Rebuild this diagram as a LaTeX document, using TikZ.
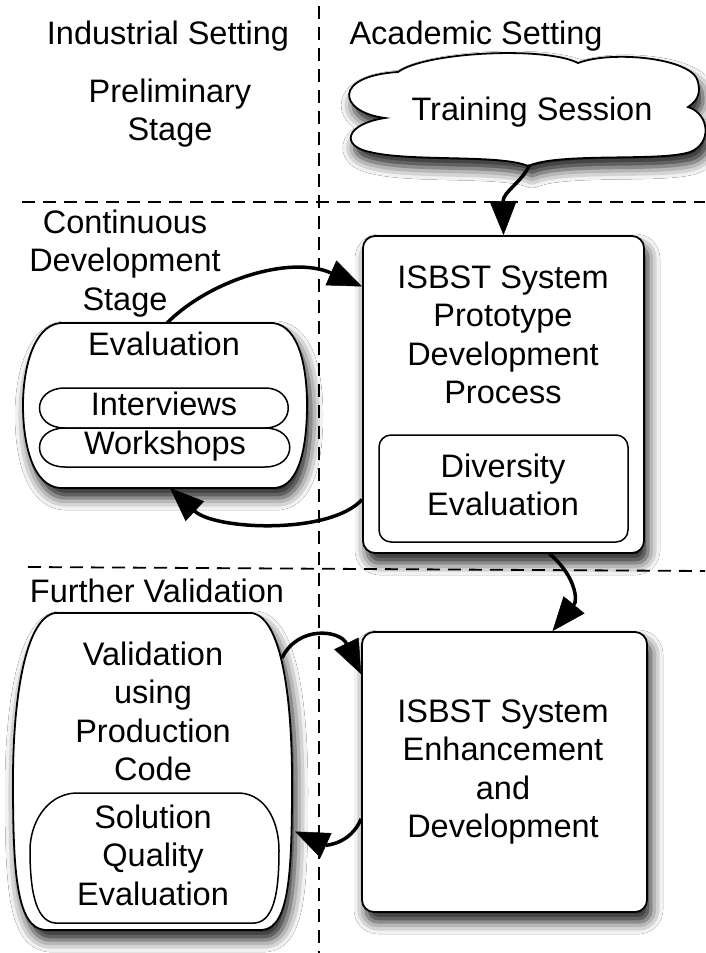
\documentclass[tikz,border=0pt]{standalone}
\usepackage{fontspec}
\setmainfont{Liberation Sans}
\usetikzlibrary{arrows.meta,shadows.blur}
\newcommand{\mlines}[1]{\vtop{\halign{\hfil##\hfil\cr#1\crcr}}}
\tikzset{
  shad/.style={blur shadow={shadow xshift=4pt, shadow yshift=-10pt, shadow blur radius=12pt, shadow opacity=90}},
  boxnode/.style={draw, line width=1.8pt, fill=white, rounded corners=12pt, inner sep=0pt},
  shapepath/.style={draw, line width=1.8pt, fill=white},
  innerpath/.style={draw, line width=1.5pt, fill=white},
  txt/.style={anchor=base, inner sep=0pt},
  anchorbox/.style={inner sep=0pt, outer sep=0pt},
  conn/.style={draw=black, line width=3.5pt, -{Triangle[length=34pt,width=27pt,fill=black,line width=0.5pt]}},
  divider/.style={line width=1.8pt, dash pattern=on 13pt off 8pt},
}
\begin{document}
\begin{tikzpicture}[x=1pt,y=-1pt,font=\fontsize{32.5}{38.5}\selectfont]
\useasboundingbox (0,0) rectangle (705,953);
\fill[white] (0,0) rectangle (705,953);

% dividers
\draw[divider] (319,6) -- (319,953);
\draw[divider] (22,202) -- (705,202);
\draw[divider] (28,567) -- (705,571);

% anchor boxes for the free-form shapes
\node[anchorbox, minimum width=357pt, minimum height=110pt] (cloud) at (526.5,110) {};
\node[anchorbox, minimum width=284pt, minimum height=165pt] (evalbox) at (165,405.5) {};
\node[anchorbox, minimum width=279pt, minimum height=317pt] (valbox) at (152.5,771.5) {};
\node[anchorbox, minimum width=249pt, minimum height=130pt] (solbox) at (154.5,858) {};

% cloud
\path[shapepath, shad] (385,118)
  .. controls (338,112) and (332,76) .. (398,72)
  .. controls (425,52) and (545,46) .. (578,63)
  .. controls (612,50) and (694,58) .. (698,82)
  .. controls (701,94) and (697,101) .. (688,107)
  .. controls (710,114) and (712,144) .. (690,152)
  .. controls (660,162) and (560,152) .. (528,166)
  .. controls (500,154) and (410,162) .. (370,152)
  .. controls (340,146) and (345,124) .. (385,118) -- cycle;

% evaluation barrel
\path[shapepath, shad] (60,323) -- (273,323)
  .. controls (300,326) and (307,370) .. (307,405)
  .. controls (307,445) and (300,486) .. (275,488) -- (60,488)
  .. controls (33,486) and (23,445) .. (23,405)
  .. controls (23,370) and (33,326) .. (60,323) -- cycle;
\path[innerpath] (65,388) -- (265,388)
  .. controls (296,388) and (296,428) .. (265,428) -- (65,428)
  .. controls (31,428) and (31,388) .. (65,388) -- cycle;
\path[innerpath] (65,428) -- (265,428)
  .. controls (298,428) and (298,467) .. (265,467) -- (65,467)
  .. controls (31,467) and (31,428) .. (65,428) -- cycle;

% validation barrel
\path[shapepath, shad] (55,613) -- (252,613)
  .. controls (282,618) and (292,700) .. (292,780)
  .. controls (292,870) and (290,928) .. (262,930) -- (45,930)
  .. controls (16,928) and (13,870) .. (13,780)
  .. controls (13,700) and (25,618) .. (55,613) -- cycle;
\path[innerpath] (75,793) -- (240,793)
  .. controls (268,795) and (279,825) .. (279,850)
  .. controls (279,885) and (276,921) .. (255,923) -- (55,923)
  .. controls (34,921) and (30,885) .. (30,850)
  .. controls (30,825) and (45,795) .. (75,793) -- cycle;

% rectangular boxes
\node[boxnode, shad, minimum width=281pt, minimum height=317pt] (proto) at (503.5,394.5) {};
\node[boxnode, line width=1.5pt, minimum width=249pt, minimum height=107pt] (div) at (503.5,488.5) {};
\node[boxnode, shad, minimum width=285pt, minimum height=280pt] (enh) at (504.5,772) {};

% texts
\node[txt] (indset) at (168,44) {Industrial Setting};
\node[txt] (acadset) at (476,44) {Academic Setting};
\node[txt] (prelim) at (170,102) {\mlines{Preliminary\cr Stage}};
\node[txt] (train) at (532,120) {Training Session};
\node[txt] (contdev) at (125,233) {\mlines{Continuous\cr Development\cr Stage}};
\node[txt] (evaltxt) at (164,355) {Evaluation};
\node[txt] (interv) at (164,415) {Interviews};
\node[txt] (works) at (165,454) {Workshops};
\node[txt] (prototxt) at (503,288) {\mlines{ISBST System\cr Prototype\cr Development\cr Process}};
\node[txt] (divtxt) at (503,477) {\mlines{Diversity\cr Evaluation}};
\node[txt] (further) at (157,602) {Further Validation};
\node[txt] (valtxt) at (153,665) {\mlines{Validation\cr using\cr Production\cr Code}};
\node[txt] (soltxt) at (153,828) {\mlines{Solution\cr Quality\cr Evaluation}};
\node[txt] (enhtxt) at (503,722) {\mlines{ISBST System\cr Enhancement\cr and\cr Development}};

% connectors
\draw[conn] ([xshift=3pt]cloud.south) .. controls (522,182) and (503,192) .. (proto.north);
\draw[conn] ([xshift=2pt]evalbox.north) .. controls (210,280) and (290,255) .. ([yshift=108pt]proto.west);
\draw[conn] ([yshift=-105pt]proto.west) .. controls (330,535) and (215,530) .. ([xshift=5pt]evalbox.south);
\draw[conn] ([xshift=46pt]proto.south) .. controls (575,575) and (578,600) .. ([xshift=48pt]enh.north);
\draw[conn] ([xshift=-10pt,yshift=-45pt]valbox.north east) .. controls (298,625) and (340,630) .. ([yshift=-43pt]enh.north west);
\draw[conn] ([yshift=94pt]enh.south west) .. controls (350,845) and (325,845) .. ([xshift=3pt,yshift=-60pt]valbox.east);
\end{tikzpicture}
\end{document}
